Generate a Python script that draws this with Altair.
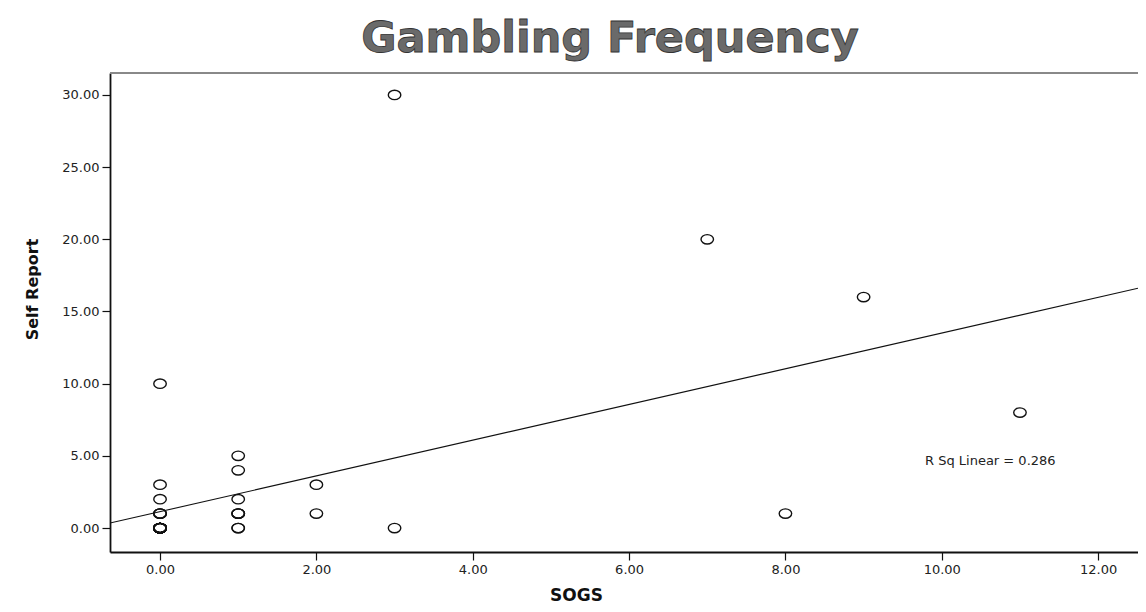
import altair as alt
import pandas as pd

# Data (duplicates stacked at the same coordinates)
sogs = [0, 0, 0, 0, 0, 0, 0, 0, 0, 0, 0, 0, 0, 0, 0, 0, 0, 0,
        0, 0, 0, 0, 0, 0,
        1, 1, 1, 1, 1, 1, 1, 1,
        2, 2,
        3, 3,
        7, 8, 9, 11]
self_report = [0, 0, 0, 0, 0, 0, 0, 0, 0, 0, 0, 0, 0, 0, 0, 0, 0, 0,
               1, 1, 1, 2, 3, 10,
               0, 0, 1, 1, 1, 2, 4, 5,
               1, 3,
               0, 30,
               20, 1, 16, 8]

x_ticks = [0, 2, 4, 6, 8, 10, 12]
y_ticks = [0, 5, 10, 15, 20, 25, 30]
x_domain = [-0.64, 12.51]
y_domain = [-1.66, 31.52]
r2_label = "R Sq Linear = 0.286"
chart_title = "Gambling Frequency"

df = pd.DataFrame({"SOGS": sogs, "Self Report": self_report})

W, H = 1028, 479
LABEL_FONT = "DejaVu Sans"

x_enc = alt.X(
    "SOGS:Q",
    scale=alt.Scale(domain=x_domain, nice=False, zero=False),
    axis=alt.Axis(
        values=x_ticks, format=".2f", title="SOGS",
        titleFont="DejaVu Sans", titleFontSize=17, titleFontWeight="bold",
        titleColor="#111", titleX=466, titleY=48, titleBaseline="alphabetic",
        titleAnchor="start", titleAlign="center",
        labelFont=LABEL_FONT, labelFontSize=13, labelColor="#222",
        labelPadding=3, tickSize=8, tickColor="#111", tickWidth=1.2,
        domainColor="#111", domainWidth=1.8, grid=False,
    ),
)
y_enc = alt.Y(
    "Self Report:Q",
    scale=alt.Scale(domain=y_domain, nice=False, zero=False),
    axis=alt.Axis(
        values=y_ticks, format=".2f", title="Self Report",
        titleFont="DejaVu Sans", titleFontSize=16, titleFontWeight="bold",
        titleColor="#111", titleX=-78, titleY=216, titleAngle=-90,
        titleBaseline="middle", titleAlign="center",
        labelFont=LABEL_FONT, labelFontSize=13, labelColor="#222",
        labelPadding=3, tickSize=8, tickColor="#111", tickWidth=1.2,
        domainColor="#111", domainWidth=1.8, grid=False,
    ),
)

ellipse = "M -1 0 A 1 0.75 0 1 1 1 0 A 1 0.75 0 1 1 -1 0 Z"

points = alt.Chart(df).mark_point(
    shape=ellipse, filled=False, size=156, stroke="#111", strokeWidth=1.4,
    opacity=1,
).encode(x=x_enc, y=y_enc)

fit = alt.Chart(df).transform_regression(
    "SOGS", "Self Report", extent=x_domain
).mark_line(color="#111", strokeWidth=1.1, clip=True).encode(
    x="SOGS:Q", y="Self Report:Q"
)

top_border = alt.Chart(df).mark_rule(color="#888", strokeWidth=1).encode(
    x=alt.value(0), x2=alt.value(W), y=alt.value(0)
)

r2_text = alt.Chart(pd.DataFrame({"label": [r2_label]})).mark_text(
    font=LABEL_FONT, fontSize=13, align="left", baseline="middle", color="#222"
).encode(x=alt.value(815), y=alt.value(388), text="label:N")

title_text = alt.Chart(pd.DataFrame({"label": [chart_title]})).mark_text(
    font="DejaVu Sans", fontSize=43, fontWeight="bold", align="center",
    baseline="alphabetic", color="#6a6a6a", stroke="#333", strokeWidth=0.8,
).encode(x=alt.value(500), y=alt.value(-21), text="label:N")

chart = alt.layer(points, fit, top_border, r2_text, title_text).properties(
    width=W, height=H,
    autosize=alt.AutoSizeParams(type="none"),
    padding={"left": 102, "top": 65, "right": 0, "bottom": 52},
).configure_view(stroke=None).configure(background="white")

chart.save("out.html", embed_options={"renderer": "svg", "actions": False})
